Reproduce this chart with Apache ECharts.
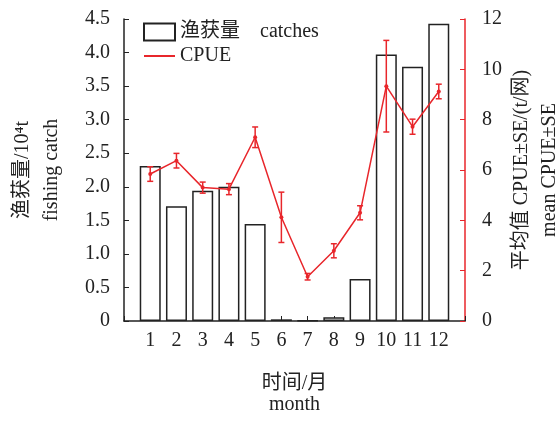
<!DOCTYPE html>
<html>
<head>
<meta charset="utf-8">
<script src="https://cdn.jsdelivr.net/npm/echarts@6/dist/echarts.min.js"></script>
<style>
html,body{margin:0;padding:0;background:#fff;}
#main{width:560px;height:422px;}
</style>
</head>
<body>
<div id="main"></div>
<script>
var months = [1, 2, 3, 4, 5, 6, 7, 8, 9, 10, 11, 12];
var catches = [2.31, 1.71, 1.94, 2.00, 1.445, 0.025, 0.005, 0.055, 0.626, 3.97, 3.79, 4.43];
var cpue = [5.84, 6.37, 5.30, 5.24, 7.30, 4.12, 1.76, 2.79, 4.30, 9.33, 7.72, 9.12];
var cpueSE = [0.29, 0.29, 0.22, 0.22, 0.41, 1.0, 0.13, 0.28, 0.28, 1.82, 0.30, 0.29];
var leftTicks = [0, 0.5, 1.0, 1.5, 2.0, 2.5, 3.0, 3.5, 4.0, 4.5];

var RED = '#e8262b';
var FONT = "'Liberation Serif','Noto Sans CJK SC',serif";

var barData = months.map(function (m, i) { return [m, catches[i]]; });
var lineData = months.map(function (m, i) { return [m, cpue[i]]; });
var errData = months.map(function (m, i) { return [m, cpue[i] - cpueSE[i], cpue[i] + cpueSE[i]]; });

var chart = echarts.init(document.getElementById('main'));
chart.setOption({
  animation: false,
  textStyle: { fontFamily: FONT },
  grid: { left: 124, right: 95, top: 19, bottom: 101, outerBoundsMode: 'none', containLabel: false },
  legend: {
    left: 138, top: 17, orient: 'vertical',
    itemWidth: 31, itemHeight: 17, itemGap: 4,
    textStyle: { fontFamily: FONT, fontSize: 20, color: '#222', lineHeight: 17 },
    data: [
      { name: '渔获量    catches', icon: 'rect' },
      { name: 'CPUE', itemStyle: { opacity: 0 } }
    ]
  },
  xAxis: {
    type: 'value', min: 0, max: 13, interval: 1,
    splitLine: { show: false },
    axisLine: { lineStyle: { color: '#222', width: 1.5 } },
    axisTick: { inside: true, length: 5, lineStyle: { color: '#222' } },
    axisLabel: {
      fontSize: 20, color: '#222', margin: 10, fontFamily: FONT,
      formatter: function (v) { return (v >= 1 && v <= 12) ? String(months[v - 1]) : ''; }
    },
    name: '时间/月\nmonth', nameLocation: 'middle', nameGap: 52,
    nameTextStyle: { fontSize: 20, color: '#222', lineHeight: 21, fontFamily: FONT }
  },
  yAxis: [
    {
      type: 'value', min: 0, max: 4.5, interval: 0.5,
      splitLine: { show: false },
      axisLine: { show: true, lineStyle: { color: '#222', width: 1.5 } },
      axisTick: { show: true, inside: true, length: 5, lineStyle: { color: '#222' } },
      axisLabel: {
        fontSize: 20, color: '#222', margin: 14, fontFamily: FONT,
        formatter: function (v) { return v === 0 ? '0' : v.toFixed(1); }
      },
      name: '渔获量/10⁴t\nfishing catch', nameLocation: 'middle', nameRotate: 90, nameGap: 58,
      nameMoveOverlap: false,
      nameTextStyle: { fontSize: 20, color: '#222', lineHeight: 29, fontFamily: FONT }
    },
    {
      type: 'value', min: 0, max: 12, interval: 2, position: 'right',
      splitLine: { show: false },
      axisLine: { show: true, lineStyle: { color: RED, width: 1.5 } },
      axisTick: { show: true, inside: true, length: 5, lineStyle: { color: RED } },
      axisLabel: { fontSize: 20, color: '#222', margin: 17, fontFamily: FONT },
      name: '平均值 CPUE±SE/(t/网)\nmean CPUE±SE', nameLocation: 'middle', nameRotate: 90, nameGap: 43,
      nameMoveOverlap: false,
      nameTextStyle: { fontSize: 20, color: '#222', lineHeight: 28, fontFamily: FONT }
    }
  ],
  series: [
    {
      name: '渔获量    catches', type: 'bar', data: barData, barWidth: 21,
      itemStyle: { color: '#fff', borderColor: '#222', borderWidth: 1.5 }
    },
    {
      name: 'CPUE', type: 'line', yAxisIndex: 1, data: lineData,
      symbol: 'circle', symbolSize: 4,
      lineStyle: { color: RED, width: 1.5 }, itemStyle: { color: RED }, z: 4
    },
    {
      name: 'err', type: 'custom', yAxisIndex: 1, data: errData, z: 5,
      renderItem: function (params, api) {
        var x = api.value(0);
        var lo = api.coord([x, api.value(1)]);
        var hi = api.coord([x, api.value(2)]);
        var w = 3;
        var st = { stroke: RED, lineWidth: 1.5 };
        return {
          type: 'group',
          children: [
            { type: 'line', shape: { x1: lo[0], y1: lo[1], x2: hi[0], y2: hi[1] }, style: st },
            { type: 'line', shape: { x1: lo[0] - w, y1: lo[1], x2: lo[0] + w, y2: lo[1] }, style: st },
            { type: 'line', shape: { x1: hi[0] - w, y1: hi[1], x2: hi[0] + w, y2: hi[1] }, style: st }
          ]
        };
      }
    }
  ]
});
</script>
</body>
</html>
